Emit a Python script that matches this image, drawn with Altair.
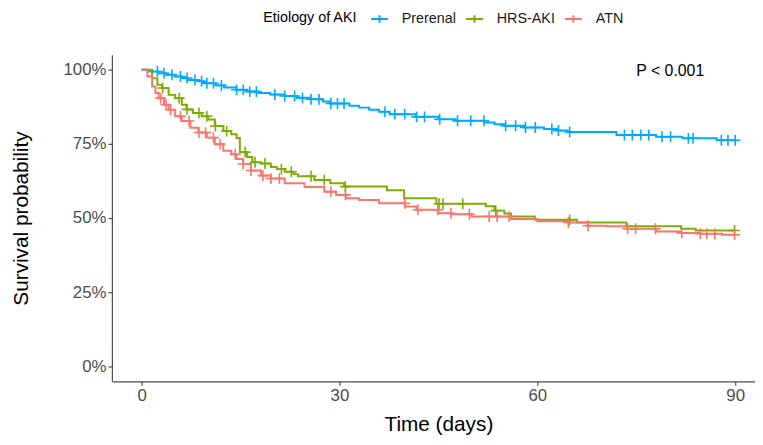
import altair as alt
import pandas as pd

groups = ["Prerenal", "HRS-AKI", "ATN"]
colors = ["#00A9FF", "#7CAE00", "#F8766D"]

# Kaplan-Meier step points (time in days, survival)
pre_t = [0, 1.0, 2.5, 3.7, 5.0, 6.1, 7.0, 8.7, 9.4, 11.2, 12.5, 14.4, 16.0, 17.7, 19.5, 21.7, 23.5,
         25.6, 27.5, 28.6, 31.5, 33.0, 34.5, 36.0, 37.6, 41.6, 45.0, 47.6, 52.0, 53.5, 55.0, 58.0,
         61.0, 63.0, 64.6, 72.0, 78.0, 82.0, 87.2, 90.0]
pre_s = [1.0, 0.994, 0.988, 0.983, 0.977, 0.972, 0.965, 0.961, 0.954, 0.947, 0.940, 0.932, 0.926,
         0.921, 0.916, 0.911, 0.905, 0.900, 0.893, 0.886, 0.878, 0.872, 0.865, 0.858, 0.850, 0.841,
         0.833, 0.828, 0.822, 0.816, 0.811, 0.805, 0.800, 0.795, 0.790, 0.780, 0.774, 0.769, 0.762,
         0.762]

hrs_t = [0, 1.6, 2.4, 3.1, 4.1, 5.1, 6.1, 6.8, 7.8, 9.1, 10.1, 11.1, 12.4, 13.6, 14.4, 14.9, 16.0,
         16.8, 18.1, 19.6, 20.5, 21.7, 23.0, 23.7, 26.2, 28.6, 30.7, 37.2, 39.8, 44.7, 52.2, 53.5,
         55.0, 56.0, 59.6, 66.0, 73.5, 81.8, 84.0, 90.0]
hrs_s = [1.0, 0.971, 0.949, 0.938, 0.915, 0.904, 0.882, 0.866, 0.854, 0.843, 0.832, 0.810, 0.793,
         0.782, 0.770, 0.722, 0.706, 0.688, 0.684, 0.672, 0.665, 0.656, 0.648, 0.641, 0.628, 0.617,
         0.606, 0.594, 0.567, 0.548, 0.540, 0.525, 0.515, 0.505, 0.494, 0.485, 0.472, 0.464, 0.458,
         0.458]

atn_t = [0, 0.9, 1.6, 2.1, 2.6, 3.4, 4.1, 5.1, 6.1, 7.4, 8.6, 9.9, 11.1, 12.4, 13.6, 14.4, 15.4,
         16.6, 18.1, 19.6, 21.7, 24.7, 27.7, 29.5, 31.0, 33.0, 36.0, 40.0, 41.7, 45.0, 47.0, 50.0,
         56.0, 60.0, 64.6, 67.6, 70.6, 73.6, 78.0, 81.8, 84.7, 88.0, 90.0]
atn_s = [1.0, 0.977, 0.943, 0.921, 0.904, 0.882, 0.865, 0.843, 0.827, 0.804, 0.788, 0.771, 0.749,
         0.727, 0.715, 0.699, 0.682, 0.660, 0.643, 0.633, 0.617, 0.605, 0.589, 0.578, 0.567, 0.561,
         0.550, 0.539, 0.528, 0.516, 0.513, 0.505, 0.497, 0.489, 0.485, 0.474, 0.472, 0.464, 0.455,
         0.450, 0.447, 0.444, 0.444]

# Censoring times
pre_c = [2.4, 3.4, 4.6, 5.9, 6.9, 8.1, 9.1, 9.9, 10.9, 12.1, 14.4, 15.4, 16.4, 17.4, 20.2, 21.7,
         23.2, 24.4, 25.7, 26.9, 28.7, 29.7, 30.7, 36.9, 38.4, 39.9, 41.7, 42.9, 45.2, 47.9, 49.9,
         51.9, 55.2, 56.7, 58.2, 59.7, 62.2, 63.2, 64.9, 73.2, 74.4, 75.7, 76.9, 78.9, 80.2, 82.9,
         83.6, 87.9, 88.9, 90.0]
hrs_c = [3.2, 5.7, 6.9, 8.7, 9.9, 11.2, 12.9, 15.7, 17.2, 18.7, 21.2, 22.7, 25.7, 27.7, 30.9,
         45.1, 45.7, 48.7, 53.7, 64.9, 89.9]
atn_c = [2.9, 3.7, 4.4, 5.9, 7.2, 8.7, 9.7, 10.9, 11.9, 14.2, 15.4, 16.6, 18.4, 19.6, 20.9, 28.7,
         30.9, 39.9, 41.9, 44.9, 46.9, 49.7, 52.7, 53.9, 55.7, 64.7, 67.7, 73.7, 74.9, 77.9, 81.9,
         84.7, 85.7, 86.9, 89.9]

x_ticks = [0, 30, 60, 90]
y_ticks = [0, 0.25, 0.5, 0.75, 1.0]


def surv_at(ts, ss, t):
    v = ss[0]
    for ti, si in zip(ts, ss):
        if ti <= t:
            v = si
    return v


curves = [(groups[0], pre_t, pre_s, pre_c), (groups[1], hrs_t, hrs_s, hrs_c),
          (groups[2], atn_t, atn_s, atn_c)]

line_rows, cens_rows = [], []
for order, (g, ts, ss, cs) in enumerate(curves):
    for t, s in zip(ts, ss):
        line_rows.append({"group": g, "time": t, "surv": s, "ord": order})
    for c in cs:
        cens_rows.append({"group": g, "time": c, "surv": surv_at(ts, ss, c), "ord": order})

lines_df = pd.DataFrame(line_rows)
cens_df = pd.DataFrame(cens_rows)

FONT = "Liberation Sans"

legend = alt.Legend(
    title="Etiology of AKI",
    orient="none",
    legendX=153,
    legendY=-46,
    direction="horizontal",
    titleOrient="left",
    titleFontSize=14.5,
    titleFontWeight="normal",
    titleColor="#000000",
    titleFont=FONT,
    titlePadding=12,
    labelFontSize=14.5,
    labelFont=FONT,
    labelColor="#1a1a1a",
    labelOffset=13,
    columnPadding=6,
    symbolType="M-1,0H1M0,-0.45V0.45",
    symbolSize=289,
    symbolStrokeWidth=2,
    symbolFillColor="transparent",
)

color = alt.Color("group:N", scale=alt.Scale(domain=groups, range=colors), legend=legend)

xs = alt.X("time:Q",
           scale=alt.Scale(domain=[-4.5, 93], nice=False, zero=False),
           axis=alt.Axis(values=x_ticks, title="Time (days)", titleX=330, titleY=50,
                         titleBaseline="alphabetic", titleAlign="center"))
ys = alt.Y("surv:Q",
           scale=alt.Scale(domain=[-0.05, 1.05], nice=False, zero=False),
           axis=alt.Axis(values=y_ticks, format=".0%", title="Survival probability",
                         titleX=-91, titleY=165, titleAngle=-90, titleAlign="center",
                         titleBaseline="middle"))

lines = alt.Chart(lines_df).mark_line(interpolate="step-after", strokeWidth=2, clip=True).encode(
    x=xs, y=ys, color=color, order=alt.Order("time:Q"), detail="ord:N"
)

cens = alt.Chart(cens_df).mark_point(
    shape="M-1,0H1M0,-1V1", filled=False, size=121, strokeWidth=1.6, opacity=1, clip=True
).encode(x="time:Q", y="surv:Q", color=color)

pval = alt.Chart(pd.DataFrame({"time": [75], "surv": [0.995], "label": ["P < 0.001"]})).mark_text(
    align="left", baseline="middle", fontSize=16, font=FONT, color="#000000"
).encode(x="time:Q", y="surv:Q", text="label:N")

chart = alt.layer(lines, cens, pval).properties(
    width=650, height=330,
    padding={"left": 105, "top": 45, "right": 0, "bottom": 55},
    autosize="none",
    background="white",
).configure_view(stroke=None).configure_axis(
    grid=False,
    domainColor="#4d4d4d",
    domainWidth=1.2,
    tickColor="#4d4d4d",
    tickWidth=1.2,
    tickSize=4,
    labelFont=FONT,
    labelFontSize=17,
    labelColor="#4d4d4d",
    labelPadding=2,
    titleFont=FONT,
    titleFontSize=21,
    titleFontWeight="normal",
    titleColor="#000000",
)

chart.save("out.html", embed_options={"renderer": "svg", "actions": False})
